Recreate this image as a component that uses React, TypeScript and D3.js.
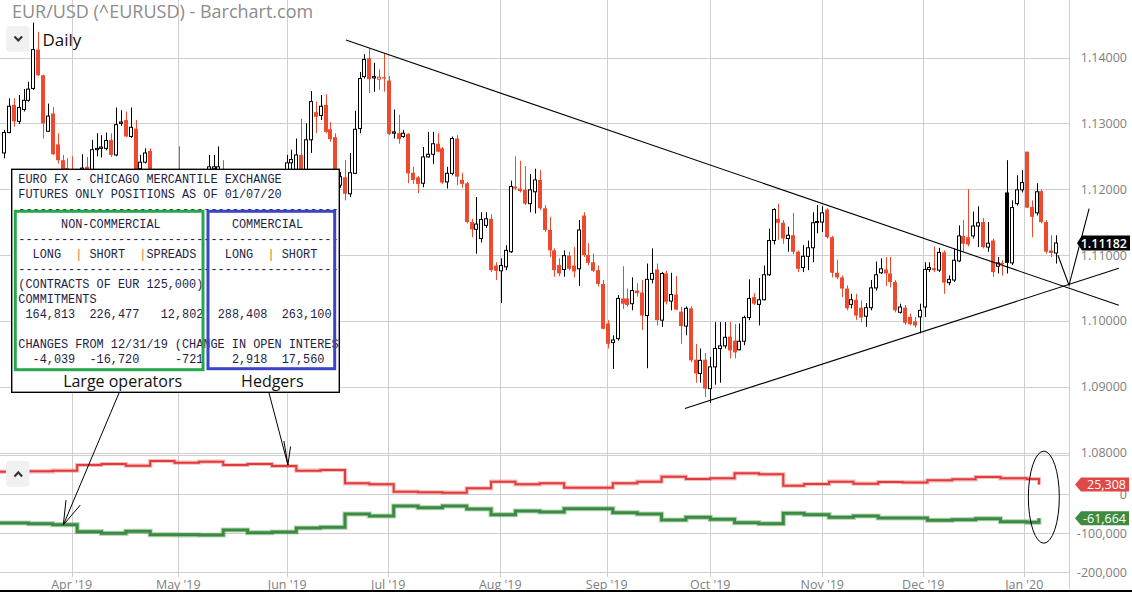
import React from "react";
import * as d3 from "d3";

// ---------- DATA ----------
// Daily EUR/USD candles [open, high, low, close], one per trading day (index 0 = first visible day)
const candles: [number, number, number, number][] = [
  [1.1255, 1.129, 1.1247, 1.1286], [1.1286, 1.1338, 1.1285, 1.1326], [1.1328, 1.1338, 1.1295, 1.1303], [1.1303, 1.1343, 1.1299, 1.1324],
  [1.1321, 1.1352, 1.1318, 1.1335], [1.1335, 1.1363, 1.1333, 1.1352], [1.1353, 1.1453, 1.1351, 1.1412], [1.1412, 1.1439, 1.1372, 1.1373],
  [1.1373, 1.1374, 1.1277, 1.13], [1.1288, 1.133, 1.1287, 1.1311], [1.1315, 1.1325, 1.1252, 1.1253], [1.1268, 1.1285, 1.1239, 1.1244],
  [1.1244, 1.1252, 1.1214, 1.122], [1.1232, 1.1247, 1.1212, 1.1217], [1.1226, 1.125, 1.1205, 1.1214], [1.1214, 1.1228, 1.1184, 1.1203],
  [1.123, 1.1253, 1.12, 1.1232], [1.1234, 1.1249, 1.1212, 1.122], [1.1218, 1.1275, 1.121, 1.126], [1.126, 1.1285, 1.125, 1.1262],
  [1.1262, 1.1282, 1.1248, 1.1264], [1.1262, 1.1286, 1.1259, 1.1274], [1.1275, 1.1285, 1.1249, 1.1252], [1.1252, 1.1324, 1.125, 1.1298],
  [1.13, 1.132, 1.1296, 1.1302], [1.1305, 1.1318, 1.1279, 1.128], [1.128, 1.1324, 1.1278, 1.1294], [1.1292, 1.1305, 1.1211, 1.1217],
  [1.1231, 1.1252, 1.1226, 1.1241], [1.1241, 1.1262, 1.1239, 1.1255], [1.1258, 1.1262, 1.1215, 1.1222], [1.1222, 1.1228, 1.114, 1.1152],
  [1.1152, 1.117, 1.1118, 1.113], [1.113, 1.1175, 1.111, 1.115], [1.115, 1.119, 1.114, 1.1183], [1.1183, 1.1226, 1.116, 1.1215],
  [1.1215, 1.1265, 1.119, 1.1195], [1.1195, 1.1205, 1.116, 1.1172], [1.1172, 1.1205, 1.1135, 1.12], [1.12, 1.1225, 1.118, 1.119],
  [1.119, 1.1215, 1.117, 1.1192], [1.1192, 1.12, 1.1175, 1.119], [1.121, 1.1252, 1.1195, 1.1234], [1.1231, 1.1252, 1.1215, 1.1234],
  [1.121, 1.1265, 1.12, 1.1234], [1.1226, 1.1244, 1.1195, 1.1205], [1.1205, 1.1215, 1.119, 1.1203], [1.1203, 1.121, 1.1165, 1.1173],
  [1.1173, 1.118, 1.115, 1.1157], [1.1157, 1.1175, 1.115, 1.1162], [1.1162, 1.117, 1.115, 1.116], [1.116, 1.1165, 1.1107, 1.1151],
  [1.1151, 1.1185, 1.1105, 1.118], [1.118, 1.1215, 1.117, 1.1204], [1.1204, 1.1215, 1.118, 1.1193], [1.1193, 1.12, 1.114, 1.1151],
  [1.1151, 1.116, 1.112, 1.113], [1.113, 1.1145, 1.1116, 1.1131], [1.1131, 1.1252, 1.1125, 1.124], [1.124, 1.126, 1.1215, 1.1245],
  [1.1225, 1.1277, 1.1205, 1.1252], [1.1252, 1.1307, 1.122, 1.1225], [1.1222, 1.13, 1.1215, 1.1275], [1.1275, 1.1349, 1.1255, 1.1333],
  [1.1317, 1.1333, 1.1285, 1.131], [1.1312, 1.1343, 1.1305, 1.1326], [1.1328, 1.1344, 1.1285, 1.1287], [1.1291, 1.1302, 1.1272, 1.1276],
  [1.1279, 1.1285, 1.1191, 1.1194], [1.1206, 1.1226, 1.1202, 1.1219], [1.1218, 1.1244, 1.1183, 1.1193], [1.1193, 1.1255, 1.1188, 1.1225],
  [1.1224, 1.1319, 1.1223, 1.1291], [1.1292, 1.1378, 1.1285, 1.1368], [1.1371, 1.1405, 1.1368, 1.1397], [1.1399, 1.1414, 1.1346, 1.1367],
  [1.1369, 1.1392, 1.1348, 1.1371], [1.1367, 1.1382, 1.1351, 1.137], [1.137, 1.1406, 1.1348, 1.1368], [1.1365, 1.1372, 1.1282, 1.1284],
  [1.1285, 1.1321, 1.1277, 1.1287], [1.1285, 1.1313, 1.1269, 1.1276], [1.128, 1.129, 1.1278, 1.1285], [1.1284, 1.1285, 1.1209, 1.1224],
  [1.1225, 1.1234, 1.1208, 1.1214], [1.1218, 1.122, 1.1194, 1.1208], [1.1209, 1.1264, 1.1203, 1.1249], [1.1249, 1.1287, 1.1248, 1.1253],
  [1.1253, 1.1287, 1.1238, 1.1269], [1.1269, 1.1285, 1.1256, 1.1257], [1.1262, 1.1264, 1.1208, 1.121], [1.1211, 1.1234, 1.1201, 1.1224],
  [1.1224, 1.128, 1.1221, 1.1277], [1.1277, 1.1282, 1.1206, 1.1219], [1.1214, 1.1225, 1.1202, 1.1208], [1.1209, 1.1211, 1.1148, 1.115],
  [1.115, 1.1155, 1.1127, 1.1139], [1.1139, 1.1188, 1.1102, 1.1147], [1.1125, 1.1165, 1.1119, 1.1154], [1.1145, 1.1165, 1.1141, 1.1155],
  [1.1155, 1.1162, 1.1074, 1.1077], [1.1084, 1.1089, 1.1062, 1.1076], [1.1076, 1.1095, 1.1027, 1.1084], [1.1082, 1.1115, 1.1077, 1.1107],
  [1.1105, 1.1213, 1.1103, 1.1204], [1.1204, 1.125, 1.1199, 1.1201], [1.1201, 1.1243, 1.1195, 1.1197], [1.1199, 1.1235, 1.1176, 1.1178],
  [1.1178, 1.1223, 1.1165, 1.1199], [1.1196, 1.1231, 1.1163, 1.1214], [1.1214, 1.1229, 1.1168, 1.1171], [1.1171, 1.1176, 1.1135, 1.1138],
  [1.1138, 1.1158, 1.1097, 1.1107], [1.1107, 1.111, 1.1067, 1.1077], [1.1085, 1.1095, 1.1068, 1.1072], [1.1078, 1.1107, 1.1067, 1.1099],
  [1.1099, 1.1105, 1.1077, 1.1079], [1.1084, 1.1112, 1.1066, 1.1075], [1.1079, 1.1153, 1.1053, 1.1138], [1.116, 1.1165, 1.1097, 1.11],
  [1.11, 1.1118, 1.1084, 1.1088], [1.1089, 1.1102, 1.1074, 1.1076], [1.1077, 1.1084, 1.1052, 1.1056], [1.1056, 1.1062, 1.0987, 1.0988],
  [1.0996, 1.1001, 1.0958, 1.0965], [1.0967, 1.0978, 1.0927, 1.0971], [1.0973, 1.1039, 1.097, 1.1034], [1.1034, 1.1083, 1.1018, 1.1026],
  [1.1034, 1.1049, 1.1022, 1.1024], [1.1026, 1.1066, 1.1016, 1.1046], [1.1046, 1.1057, 1.1037, 1.1042], [1.1043, 1.1062, 1.0986, 1.1008],
  [1.1008, 1.1087, 1.0928, 1.1063], [1.1063, 1.111, 1.1057, 1.1072], [1.1078, 1.1087, 1.0993, 1.1001], [1.1001, 1.1074, 1.0991, 1.1072],
  [1.1072, 1.1076, 1.1025, 1.1029], [1.103, 1.1073, 1.1016, 1.104], [1.104, 1.1068, 1.1016, 1.1017], [1.1014, 1.1021, 1.0965, 1.0992],
  [1.0992, 1.1022, 1.0978, 1.1019], [1.1019, 1.1022, 1.0937, 1.094], [1.0941, 1.0965, 1.0906, 1.092], [1.092, 1.0958, 1.0906, 1.094],
  [1.0941, 1.0951, 1.0884, 1.0897], [1.0897, 1.0945, 1.0875, 1.093], [1.093, 1.0998, 1.0903, 1.0958], [1.0958, 1.0998, 1.0906, 1.0962],
  [1.0962, 1.0998, 1.0958, 1.0975], [1.0976, 1.0998, 1.0943, 1.0955], [1.097, 1.0995, 1.0943, 1.0952], [1.0956, 1.0996, 1.0955, 1.0969],
  [1.0969, 1.1008, 1.0963, 1.1005], [1.1005, 1.1063, 1.1001, 1.1034], [1.1036, 1.1042, 1.1024, 1.1026], [1.1025, 1.1065, 1.0993, 1.1032],
  [1.1032, 1.1084, 1.1031, 1.107], [1.107, 1.114, 1.1068, 1.1122], [1.1122, 1.1171, 1.1116, 1.1169], [1.1155, 1.1178, 1.1123, 1.1149],
  [1.1149, 1.1153, 1.1117, 1.1125], [1.1125, 1.1143, 1.1105, 1.113], [1.113, 1.1164, 1.1101, 1.1105], [1.1105, 1.1107, 1.1074, 1.1079],
  [1.1081, 1.1115, 1.1074, 1.1098], [1.1098, 1.1122, 1.1077, 1.1111], [1.1111, 1.1165, 1.1089, 1.1149], [1.115, 1.1176, 1.1133, 1.1151],
  [1.115, 1.1174, 1.1135, 1.1164], [1.1169, 1.1171, 1.1125, 1.1127], [1.1127, 1.1129, 1.1066, 1.1073], [1.1073, 1.1093, 1.1063, 1.1066],
  [1.1066, 1.1069, 1.1036, 1.1049], [1.1049, 1.1054, 1.1016, 1.1019], [1.1025, 1.1041, 1.1019, 1.1032], [1.1032, 1.1041, 1.1001, 1.1008],
  [1.102, 1.1031, 1.0998, 1.1005], [1.1007, 1.1027, 1.0991, 1.102], [1.102, 1.1062, 1.1016, 1.105], [1.105, 1.109, 1.1046, 1.107],
  [1.1073, 1.1095, 1.1071, 1.1079], [1.1078, 1.1097, 1.1053, 1.1072], [1.1072, 1.1097, 1.1051, 1.1059], [1.1059, 1.1062, 1.1013, 1.1016],
  [1.1013, 1.1026, 1.1011, 1.1021], [1.102, 1.1024, 1.0994, 1.0997], [1.1006, 1.1011, 1.0993, 1.0995], [1.0999, 1.1006, 1.099, 1.0993],
  [1.1006, 1.1026, 1.0981, 1.1016], [1.1021, 1.1089, 1.1006, 1.1078], [1.1078, 1.1089, 1.1074, 1.1081], [1.108, 1.1113, 1.1074, 1.1077],
  [1.1077, 1.1111, 1.1074, 1.1104], [1.1104, 1.1107, 1.1041, 1.1058], [1.1058, 1.1069, 1.1054, 1.1063], [1.1062, 1.111, 1.1059, 1.1092],
  [1.1091, 1.1145, 1.1089, 1.1129], [1.1129, 1.1153, 1.1105, 1.1117], [1.1127, 1.12, 1.1113, 1.1116], [1.1129, 1.1166, 1.1125, 1.1144],
  [1.1144, 1.1174, 1.1112, 1.1149], [1.115, 1.1156, 1.111, 1.1112], [1.1112, 1.115, 1.1105, 1.1118], [1.1122, 1.1125, 1.1067, 1.1074],
  [1.1083, 1.1097, 1.1072, 1.1088], [1.1088, 1.1092, 1.1069, 1.1086], [1.1195, 1.1244, 1.1072, 1.1088], [1.1088, 1.1183, 1.1085, 1.1172],
  [1.1178, 1.1221, 1.1175, 1.1199], [1.1199, 1.1229, 1.1195, 1.121], [1.1257, 1.1257, 1.1171, 1.1172], [1.1173, 1.1183, 1.1127, 1.1158],
  [1.1164, 1.1209, 1.116, 1.1196], [1.1197, 1.12, 1.1148, 1.115], [1.115, 1.1153, 1.1102, 1.1105], [1.1107, 1.113, 1.1097, 1.1103],
  [1.1103, 1.113, 1.1087, 1.11182],
];

const monthLabels = ["Apr '19", "May '19", "Jun '19", "Jul '19", "Aug '19", "Sep '19", "Oct '19", "Nov '19", "Dec '19", "Jan '20"];
const monthIndex = [13.87, 35.77, 58.15, 78.89, 101.89, 123.74, 145.01, 168.01, 188.75, 209.49];
const priceTicks = [1.08, 1.09, 1.1, 1.11, 1.12, 1.13, 1.14];
const cotTicks = [0, -100000, -200000];
const cotGridValues = [100000, 0, -100000, -200000];
const lastClose = 1.11182;

// Weekly COT net positions (step lines): index of the trading day where each weekly value starts
const cotWeekStart = [-1, 5, 10, 15, 20, 25, 30, 35, 40, 45, 50, 55, 60, 65, 70, 75, 80, 85, 90, 95, 100, 105, 110, 115,
  125, 130, 135, 140, 145, 150, 155, 160, 164.3, 169.4, 174.4, 179.5, 184.5, 189.6, 194.7, 199.5, 204.6, 210];
const hedgersNet = [58000, 59000, 60500, 75100, 77700, 73400, 85400, 81000, 83600, 75100, 77700, 72600, 60500, 62300, 28200, 25600,
  6700, 5100, 4100, 15400, 32300, 25600, 28200, 16900, 28200, 32300, 45100, 39200, 41000, 53800, 51300, 22100,
  26400, 32300, 27200, 31500, 30500, 35900, 38500, 44400, 41000, 39200];
const largeOpsNet = [-73600, -75400, -77900, -95900, -100000, -94900, -103600, -104000, -104400, -91500, -98500, -96700, -86400, -84600,
  -50500, -55600, -30000, -34400, -30000, -37700, -52300, -42800, -45400, -36900, -47200, -50500, -65900, -59000, -64100,
  -72800, -75400, -48700, -52300, -59000, -55600, -60800, -60800, -66700, -65100, -62600, -70300, -71800];
const cotLastIndex = 212.5;
const hedgersLatest = 25308;
const largeOpsLatest = -61664;

// hand-drawn annotations, in data coordinates [day index, price]
const upperTrend: [number, number][] = [[70.2, 1.14266], [228.9, 1.10236]];
const lowerTrend: [number, number][] = [[139.8, 1.08669], [228.9, 1.10798]];
const projection: [number, number][] = [[216.4, 1.10996], [218.67, 1.1054], [222.8, 1.11706]];

// COT report box text
const reportLines: { row: number; col: number; text: string; accent?: boolean }[] = [
  { row: 0, col: 0, text: "EURO FX - CHICAGO MERCANTILE EXCHANGE" },
  { row: 1, col: 0, text: "FUTURES ONLY POSITIONS AS OF 01/07/20" },
  { row: 2, col: 0, text: "-".repeat(47) },
  { row: 3, col: 6, text: "NON-COMMERCIAL" },
  { row: 3, col: 30, text: "COMMERCIAL" },
  { row: 4, col: 0, text: "-".repeat(47) },
  { row: 5, col: 2, text: "LONG" },
  { row: 5, col: 8, text: "|", accent: true },
  { row: 5, col: 10, text: "SHORT" },
  { row: 5, col: 17, text: "|", accent: true },
  { row: 5, col: 18, text: "SPREADS" },
  { row: 5, col: 29, text: "LONG" },
  { row: 5, col: 35, text: "|", accent: true },
  { row: 5, col: 37, text: "SHORT" },
  { row: 6, col: 0, text: "-".repeat(47) },
  { row: 7, col: 0, text: "(CONTRACTS OF EUR 125,000)" },
  { row: 8, col: 0, text: "COMMITMENTS" },
  { row: 9, col: 1, text: "164,813" },
  { row: 9, col: 10, text: "226,477" },
  { row: 9, col: 20, text: "12,802" },
  { row: 9, col: 28, text: "288,408" },
  { row: 9, col: 37, text: "263,100" },
  { row: 11, col: 0, text: "CHANGES FROM 12/31/19 (CHANGE IN OPEN INTEREST" },
  { row: 12, col: 2, text: "-4,039" },
  { row: 12, col: 10, text: "-16,720" },
  { row: 12, col: 22, text: "-721" },
  { row: 12, col: 30, text: "2,918" },
  { row: 12, col: 37, text: "17,560" },
];

// ---------- CHART ----------
const RED = "#ef4a2d";
const GRID = "#cfcfcf";
const AXIS_TEXT = "#808080";
const SANS = "'Open Sans', 'Noto Sans', sans-serif";
const MONO = "'Liberation Mono', 'DejaVu Sans Mono', monospace";

const fmtCot = (v: number) => d3.format(",")(v).replace("\u2212", "-");

export default function App() {
  const W = 1132;
  const H = 592;
  const plotRight = 1069;

  const x = d3.scaleLinear().domain([0, candles.length - 1]).range([4.1, 1056]);
  const y = d3.scaleLinear().domain([1.08, 1.14]).range([452.5, 57.5]);
  const yc = d3.scaleLinear().domain([-200000, 100000]).range([572.3, 455.3]);

  const priceLine = d3.line<[number, number]>().x((d) => x(d[0])).y((d) => y(d[1]));

  const stepPath = (vals: number[], last: number) => {
    const pts: [number, number][] = cotWeekStart.map((s, i) => [s, vals[i]]);
    pts.push([cotLastIndex, vals[vals.length - 1]]);
    pts.push([cotLastIndex, last]);
    return d3
      .line<[number, number]>()
      .x((d) => x(d[0]))
      .y((d) => yc(d[1]))
      .curve(d3.curveStepAfter)(pts) as string;
  };

  const redPath = stepPath(hedgersNet, hedgersLatest);
  const greenPath = stepPath(largeOpsNet, largeOpsLatest);

  const tag = (cy: number, tip: number, left: number, right: number, h: number) =>
    `M${tip},${cy} L${left},${cy - h / 2} L${right},${cy - h / 2} L${right},${cy + h / 2} L${left},${cy + h / 2} Z`;

  // box layout
  const box = { x: 11.7, y: 169.3, w: 327.6, h: 223 };
  const charW = 7.12;
  const textX0 = 18.3;
  const rowY0 = 182.7;
  const rowH = 15;

  // annotation arrows (tips in data coords)
  const loTip: [number, number] = [x(12.16), yc(-78700)];
  const hdTip: [number, number] = [x(58.28), yc(75100)];

  // ellipse around latest COT values
  const ellCx = x(213.5);
  const ellCy = yc(-7400);
  const ellRx = x(213.5 + 3.18) - x(213.5);
  const ellRy = yc(-7400) - yc(-7400 + 118000);

  return (
    <svg
      width={W}
      height={H}
      viewBox={`0 0 ${W} ${H}`}
      style={{ position: "fixed", left: 0, top: 0, background: "#fff" }}
    >
      <defs>
        <clipPath id="boxclip">
          <rect x={box.x} y={box.y} width={box.w} height={box.h} />
        </clipPath>
        <clipPath id="lowerclip">
          <rect x={0} y={440} width={plotRight} height={150} />
        </clipPath>
      </defs>
      <rect x={0} y={0} width={W} height={H} fill="#fff" />

      {/* vertical grid */}
      {monthIndex.map((m, i) => (
        <line key={"vg" + i} x1={Math.round(x(m)) + 0.5} x2={Math.round(x(m)) + 0.5} y1={0} y2={577} stroke={GRID} />
      ))}
      {/* price grid */}
      {priceTicks.map((p, i) => (
        <line key={"hg" + i} x1={0} x2={plotRight} y1={Math.round(y(p)) + 0.5} y2={Math.round(y(p)) + 0.5} stroke={GRID} />
      ))}
      {/* cot grid */}
      {cotGridValues.map((v, i) => (
        <line key={"cg" + i} x1={0} x2={plotRight} y1={Math.round(yc(v)) + 0.5} y2={Math.round(yc(v)) + 0.5} stroke={GRID} />
      ))}
      <line x1={plotRight + 0.5} x2={plotRight + 0.5} y1={0} y2={589} stroke={GRID} />

      {/* title */}
      <text x={12} y={17.5} fontFamily={SANS} fontSize={18} fill="#8c8c8c">
        EUR/USD (^EURUSD) - Barchart.com
      </text>

      {/* candles */}
      {candles.map((d, i) => {
        const [o, h, l, c] = d;
        const prevC = i > 0 ? candles[i - 1][3] : o;
        const hollow = c >= o;
        const color = c >= prevC ? "#000" : RED;
        const cx = Math.round(x(i));
        const yTop = y(Math.max(o, c));
        const yBot = y(Math.min(o, c));
        const bh = Math.max(1, yBot - yTop);
        return (
          <g key={"c" + i}>
            <line x1={cx + 0.5} x2={cx + 0.5} y1={y(h)} y2={y(l)} stroke={color} strokeWidth={1} />
            {hollow ? (
              <rect x={cx - 1.5} y={yTop} width={3} height={bh} fill="#fff" stroke={color} strokeWidth={1} />
            ) : (
              <rect x={cx - 2} y={yTop} width={4} height={bh} fill={color} />
            )}
          </g>
        );
      })}

      {/* Daily selector */}
      <rect x={6} y={26} width={23.5} height={25.7} rx={4} fill="#f1f1f1" />
      <path d="M14.5,36.5 L18.3,40.5 L22.1,36.5" fill="none" stroke="#333" strokeWidth={2.2} />
      <text x={42.5} y={45.5} fontFamily={SANS} fontSize={17} fill="#111">
        Daily
      </text>

      {/* COT lines */}
      <g clipPath="url(#lowerclip)">
        <path d={redPath} fill="none" stroke="#e23b3b" strokeOpacity={0.35} strokeWidth={4.2} />
        <path d={redPath} fill="none" stroke="#e23b3b" strokeWidth={2} />
        <path d={greenPath} fill="none" stroke="#3a8b3f" strokeOpacity={0.35} strokeWidth={5.2} />
        <path d={greenPath} fill="none" stroke="#3a8b3f" strokeWidth={3} />
      </g>

      {/* lower panel collapse button */}
      <rect x={6} y={461} width={23.5} height={25.7} rx={4} fill="#f1f1f1" />
      <path d="M14.5,476.5 L18.3,472.3 L22.1,476.5" fill="none" stroke="#333" strokeWidth={2.2} />

      {/* right axis labels */}
      {priceTicks.map((p, i) => (
        <text key={"pl" + i} x={1127} y={y(p) + 4.5} textAnchor="end" fontFamily={SANS} fontSize={12.5} fill={AXIS_TEXT}>
          {d3.format(".5f")(p)}
        </text>
      ))}
      {cotTicks.map((v, i) => (
        <text key={"cl" + i} x={1127} y={yc(v) + 4.5} textAnchor="end" fontFamily={SANS} fontSize={12.5} fill={AXIS_TEXT}>
          {fmtCot(v)}
        </text>
      ))}

      {/* value tags */}
      <path d={tag(y(lastClose), 1077, 1082, 1130, 15)} fill="#000" />
      <text x={1127} y={y(lastClose) + 4.6} textAnchor="end" fontFamily={SANS} fontSize={12.5} fontWeight={600} fill="#fff">
        {d3.format(".5f")(lastClose)}
      </text>
      <path d={tag(yc(hedgersLatest), 1075, 1081, 1129, 14)} fill="#e04848" />
      <text x={1126} y={yc(hedgersLatest) + 4.5} textAnchor="end" fontFamily={SANS} fontSize={12.5} fill="#fff">
        {fmtCot(hedgersLatest)}
      </text>
      <path d={tag(yc(largeOpsLatest), 1075, 1081, 1129, 14)} fill="#3d8b40" />
      <text x={1126} y={yc(largeOpsLatest) + 4.5} textAnchor="end" fontFamily={SANS} fontSize={12.5} fill="#fff">
        {fmtCot(largeOpsLatest)}
      </text>

      {/* bottom month labels */}
      {monthLabels.map((m, i) => (
        <text key={"ml" + i} x={x(monthIndex[i])} y={588.5} textAnchor="middle" fontFamily={SANS} fontSize={12.5} fill={AXIS_TEXT}>
          {m}
        </text>
      ))}

      {/* trendlines */}
      <path d={priceLine(upperTrend) as string} fill="none" stroke="#000" strokeWidth={1.1} />
      <path d={priceLine(lowerTrend) as string} fill="none" stroke="#000" strokeWidth={1.1} />
      <path d={priceLine(projection) as string} fill="none" stroke="#000" strokeWidth={1.1} />
      <ellipse cx={ellCx} cy={ellCy} rx={ellRx} ry={ellRy} fill="none" stroke="#000" strokeWidth={1} />

      {/* COT report box */}
      <rect x={box.x} y={box.y} width={box.w} height={box.h} fill="#fff" stroke="#000" strokeWidth={1.4} />
      <g clipPath="url(#boxclip)">
        {reportLines.map((t, i) => (
          <text
            key={"rt" + i}
            x={textX0 + t.col * charW}
            y={rowY0 + t.row * rowH}
            fontFamily={MONO}
            fontSize={11.87}
            fill={t.accent ? "#d4821e" : "#1e1e46"}
          >
            {t.text}
          </text>
        ))}
      </g>
      <rect x={15.3} y={211.3} width={187.7} height={158.4} fill="none" stroke="#25a84b" strokeWidth={3} />
      <rect x={208} y={211.3} width={126.7} height={157.4} fill="none" stroke="#3c44c8" strokeWidth={3} />
      <text x={122.6} y={386.7} textAnchor="middle" fontFamily={SANS} fontSize={16} fill="#111">
        Large operators
      </text>
      <text x={272.3} y={386.7} textAnchor="middle" fontFamily={SANS} fontSize={16} fill="#111">
        Hedgers
      </text>

      {/* arrows */}
      <g stroke="#000" strokeWidth={1} fill="none">
        <line x1={119} y1={393} x2={loTip[0]} y2={loTip[1]} />
        <line x1={loTip[0]} y1={loTip[1]} x2={loTip[0] + 2.7} y2={loTip[1] - 25} />
        <line x1={loTip[0]} y1={loTip[1]} x2={loTip[0] + 17} y2={loTip[1] - 20} />
        <line x1={269} y1={393} x2={hdTip[0]} y2={hdTip[1]} />
        <line x1={hdTip[0]} y1={hdTip[1]} x2={hdTip[0] - 4} y2={hdTip[1] - 24} />
        <line x1={hdTip[0]} y1={hdTip[1]} x2={hdTip[0] + 2.6} y2={hdTip[1] - 18.5} />
      </g>

      {/* bottom border */}
      <rect x={0} y={590} width={W} height={2} fill="#000" />
    </svg>
  );
}
